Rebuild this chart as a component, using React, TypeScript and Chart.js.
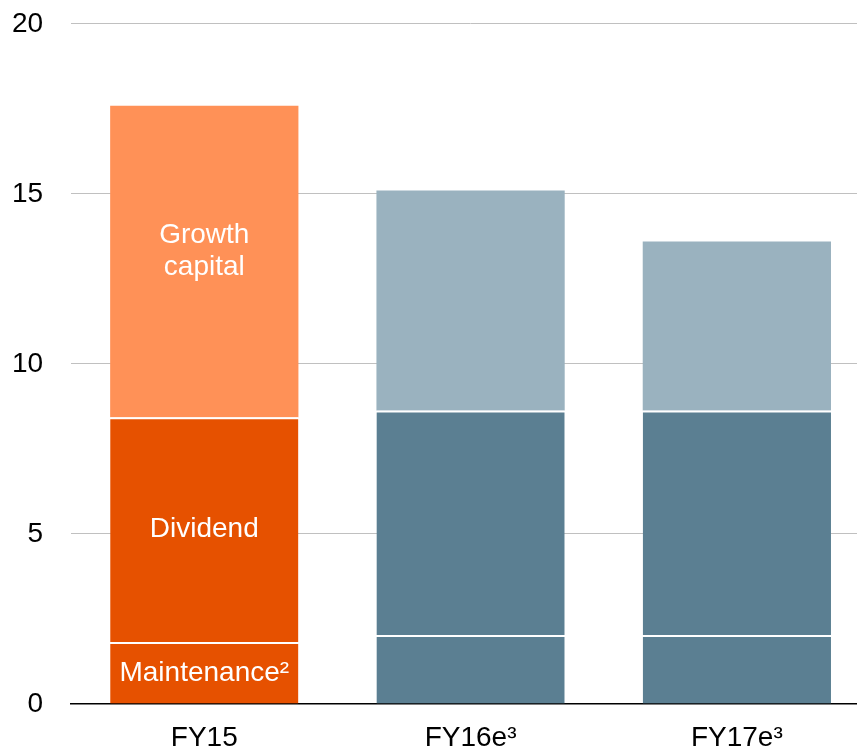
import React, { useEffect, useRef } from "react";
import { Chart, registerables } from "chart.js";

Chart.register(...registerables);

const categories = ["FY15", "FY16e³", "FY17e³"];
const maintenance = [1.82, 2.03, 2.03];
const dividend = [6.61, 6.6, 6.6];
const growth = [9.16, 6.47, 4.97];
const segmentLabels = [["Maintenance²"], ["Dividend"], ["Growth", "capital"]];
const yTicks = [0, 5, 10, 15, 20];

const FONT = "'Liberation Sans', Arial, sans-serif";
const ORANGE_DARK = "#E65100";
const ORANGE_LIGHT = "#FF9157";
const BLUE_DARK = "#5B7F92";
const BLUE_LIGHT = "#9AB2BF";

const labelPlugin = {
  id: "segmentLabels",
  afterDatasetsDraw(chart: any) {
    const ctx = chart.ctx;
    ctx.save();
    ctx.fillStyle = "#ffffff";
    ctx.font = `28px ${FONT}`;
    ctx.textAlign = "center";
    ctx.textBaseline = "middle";
    segmentLabels.forEach((lines, di) => {
      const el = chart.getDatasetMeta(di).data[0];
      if (!el) return;
      const { x, y, base } = el.getProps(["x", "y", "base"], true);
      const cy = (y + base) / 2;
      const lh = 32;
      const offset = lines.length > 1 ? -10 : 0;
      lines.forEach((t, i) => {
        ctx.fillText(t, x, cy + offset + (i - (lines.length - 1) / 2) * lh);
      });
    });
    ctx.restore();
  },
};

export default function App() {
  const ref = useRef<HTMLCanvasElement>(null);
  useEffect(() => {
    if (!ref.current) return;
    const chart = new Chart(ref.current, {
      type: "bar",
      data: {
        labels: categories,
        datasets: [
          {
            data: maintenance,
            backgroundColor: [ORANGE_DARK, BLUE_DARK, BLUE_DARK],
            borderColor: "#ffffff",
            borderWidth: { top: 2, left: 0, right: 0, bottom: 0 },
            borderSkipped: false,
          },
          {
            data: dividend,
            backgroundColor: [ORANGE_DARK, BLUE_DARK, BLUE_DARK],
            borderColor: "#ffffff",
            borderWidth: { top: 2, left: 0, right: 0, bottom: 0 },
            borderSkipped: false,
          },
          {
            data: growth,
            backgroundColor: [ORANGE_LIGHT, BLUE_LIGHT, BLUE_LIGHT],
            borderWidth: 0,
          },
        ],
      },
      options: {
        responsive: false,
        animation: false,
        layout: { padding: { left: 12, top: 2, right: 0, bottom: 0 } },
        plugins: {
          legend: { display: false },
          tooltip: { enabled: false },
        },
        datasets: {
          bar: { categoryPercentage: 1, barPercentage: 0.707 },
        },
        scales: {
          x: {
            stacked: true,
            grid: { display: false },
            border: { display: true, color: "#000000", width: 1.5 },
            ticks: {
              color: "#000000",
              font: { family: FONT, size: 28, lineHeight: 1 },
              padding: 12,
              maxRotation: 0,
            },
          },
          y: {
            stacked: true,
            min: 0,
            max: 20,
            afterBuildTicks: (axis: any) => {
              axis.ticks = yTicks.map((v) => ({ value: v }));
            },
            grid: {
              drawTicks: false,
              color: (c: any) => (c.tick && c.tick.value === 0 ? "rgba(0,0,0,0)" : "#C0C0C0"),
              lineWidth: 1,
            },
            border: { display: false },
            ticks: {
              color: "#000000",
              font: { family: FONT, size: 28 },
              padding: 28,
            },
          },
        },
      },
      plugins: [labelPlugin],
    });
    return () => chart.destroy();
  }, []);
  return (
    <div
      style={{
        position: "fixed",
        left: 0,
        top: 0,
        width: 857,
        height: 750,
        overflow: "hidden",
        background: "#ffffff",
      }}
    >
      <canvas
        ref={ref}
        width={898}
        height={785}
        style={{ display: "block", marginLeft: -28, marginTop: -21 }}
      />
    </div>
  );
}
